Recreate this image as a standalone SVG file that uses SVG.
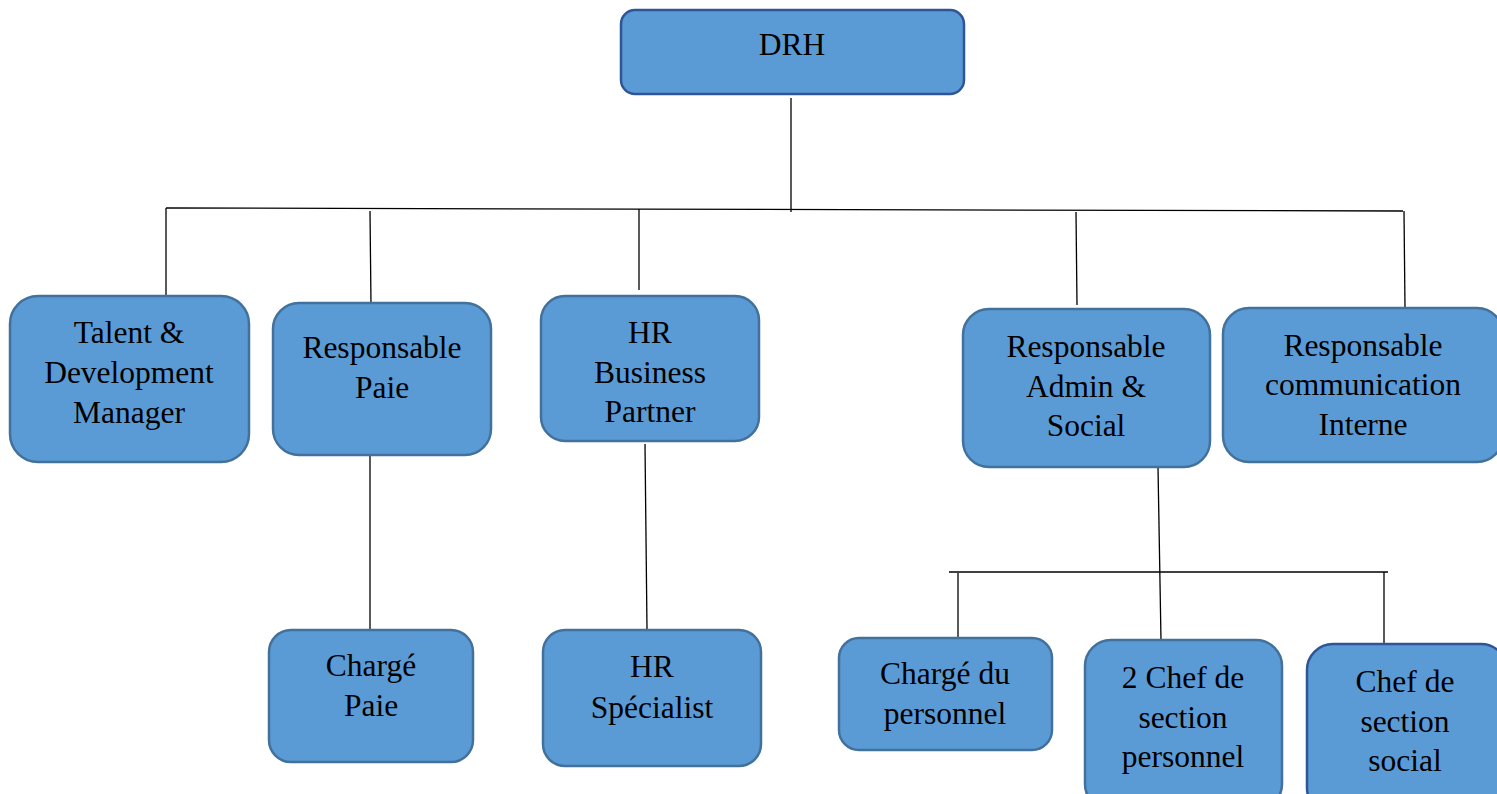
<svg xmlns="http://www.w3.org/2000/svg" width="1497" height="794" viewBox="0 0 1497 794">
  <style>
    .box { fill: #5B9BD5; stroke: #41719C; stroke-width: 2.5; }
    .box.dark { stroke: #2F5597; }
    .lbl { font-family: "Liberation Serif", "Times New Roman", serif; font-size: 31.5px; fill: #000; text-anchor: middle; }
    .conn line { stroke: #000; stroke-width: 1.3; }
  </style>
  <rect width="1497" height="794" fill="#fff"/>

  <!-- connectors -->
  <g id="connectors" class="conn">
    <line x1="791" y1="98" x2="791" y2="212"/>
    <line x1="166" y1="208" x2="1403" y2="211"/>
    <line x1="166" y1="208" x2="166" y2="296"/>
    <line x1="370" y1="211" x2="371" y2="305"/>
    <line x1="639" y1="209" x2="639" y2="290"/>
    <line x1="1076" y1="212" x2="1077" y2="305"/>
    <line x1="1404" y1="211" x2="1405" y2="308"/>
    <line x1="370" y1="455" x2="370" y2="630"/>
    <line x1="645" y1="444" x2="647" y2="630"/>
    <line x1="1158" y1="467" x2="1161" y2="640"/>
    <line x1="949" y1="572" x2="1388" y2="572"/>
    <line x1="958" y1="573" x2="958" y2="638"/>
    <line x1="1384" y1="572" x2="1384" y2="644"/>
  </g>

  <g id="drh">
    <rect class="box dark" x="621" y="10" width="343" height="84" rx="14"/>
    <text class="lbl" x="792" y="55">DRH</text>
  </g>

  <g id="talent">
    <rect class="box" x="10" y="296" width="239" height="166" rx="28"/>
    <text class="lbl" x="129" y="343">Talent &amp;</text>
    <text class="lbl" x="129" y="383">Development</text>
    <text class="lbl" x="129" y="423">Manager</text>
  </g>

  <g id="resp-paie">
    <rect class="box" x="273" y="303" width="218" height="152" rx="26"/>
    <text class="lbl" x="382" y="358">Responsable</text>
    <text class="lbl" x="382" y="398">Paie</text>
  </g>

  <g id="hrbp">
    <rect class="box" x="541" y="296" width="218" height="145" rx="24"/>
    <text class="lbl" x="650" y="343">HR</text>
    <text class="lbl" x="650" y="383">Business</text>
    <text class="lbl" x="650" y="422">Partner</text>
  </g>

  <g id="resp-admin">
    <rect class="box" x="963" y="309" width="247" height="158" rx="26"/>
    <text class="lbl" x="1086" y="357">Responsable</text>
    <text class="lbl" x="1086" y="397">Admin &amp;</text>
    <text class="lbl" x="1086" y="436">Social</text>
  </g>

  <g id="resp-comm">
    <rect class="box" x="1223" y="308" width="280" height="154" rx="26"/>
    <text class="lbl" x="1363" y="356">Responsable</text>
    <text class="lbl" x="1363" y="395">communication</text>
    <text class="lbl" x="1363" y="435">Interne</text>
  </g>

  <g id="charge-paie">
    <rect class="box" x="269" y="630" width="204" height="132" rx="22"/>
    <text class="lbl" x="371" y="676">Chargé</text>
    <text class="lbl" x="371" y="716">Paie</text>
  </g>

  <g id="hr-specialist">
    <rect class="box" x="543" y="630" width="218" height="136" rx="22"/>
    <text class="lbl" x="652" y="677">HR</text>
    <text class="lbl" x="652" y="718">Spécialist</text>
  </g>

  <g id="charge-personnel">
    <rect class="box" x="839" y="638" width="213" height="112" rx="20"/>
    <text class="lbl" x="945" y="684">Chargé du</text>
    <text class="lbl" x="945" y="724">personnel</text>
  </g>

  <g id="chef-personnel">
    <rect class="box" x="1085" y="640" width="197" height="170" rx="26"/>
    <text class="lbl" x="1183" y="688">2 Chef de</text>
    <text class="lbl" x="1183" y="728">section</text>
    <text class="lbl" x="1183" y="767">personnel</text>
  </g>

  <g id="chef-social">
    <rect class="box dark" x="1307" y="644" width="200" height="170" rx="26"/>
    <text class="lbl" x="1405" y="692">Chef de</text>
    <text class="lbl" x="1405" y="732">section</text>
    <text class="lbl" x="1405" y="771">social</text>
  </g>
</svg>
